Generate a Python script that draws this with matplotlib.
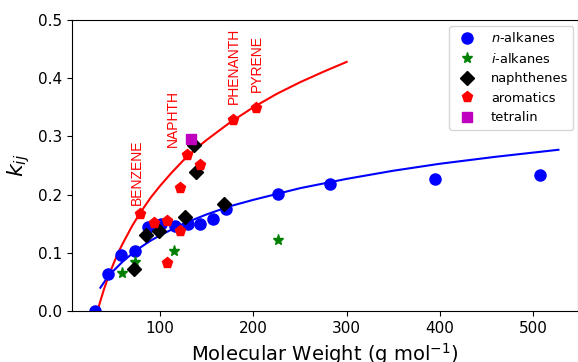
import numpy as np
import matplotlib.pyplot as plt

# binary interaction parameters vs molecular weight
n_alk_mw = [30, 44, 58, 73, 87, 101, 116, 130, 143, 157, 171, 226, 282, 395, 507]
n_alk_k = [0.0, 0.064, 0.096, 0.103, 0.144, 0.149, 0.146, 0.149, 0.149, 0.158, 0.176,
           0.201, 0.218, 0.226, 0.234]

i_alk_mw = [59, 73, 115, 226]
i_alk_k = [0.066, 0.085, 0.103, 0.122]

naph_mw = [72, 85, 99, 127, 169, 139, 136]
naph_k = [0.073, 0.131, 0.138, 0.162, 0.183, 0.239, 0.285]

arom_mw = [78.5, 93.5, 107, 121, 121, 107, 143, 128.6, 178.5, 202.6]
arom_k = [0.167, 0.152, 0.155, 0.137, 0.211, 0.082, 0.251, 0.268, 0.329, 0.349]

tetralin_mw = [133]
tetralin_k = [0.296]

# fitted trend lines
fit_n_mw = [36, 42, 50, 60, 75, 90, 100, 125, 150, 175, 200, 250, 300, 350, 400, 460, 527]
fit_n_k = [0.040, 0.054, 0.069, 0.085, 0.105, 0.121, 0.130, 0.150, 0.166, 0.180, 0.191,
           0.211, 0.227, 0.241, 0.253, 0.265, 0.277]

fit_a_mw = [30, 35, 40, 45, 50, 55, 60, 70, 78, 90, 100, 112, 125, 140, 150, 175, 200, 225, 250, 275, 300]
fit_a_k = [-0.018, 0.012, 0.038, 0.061, 0.081, 0.100, 0.116, 0.146, 0.167, 0.195, 0.215,
           0.237, 0.259, 0.281, 0.294, 0.324, 0.350, 0.373, 0.393, 0.411, 0.428]

labels = ['BENZENE', 'NAPHTH', 'PHENANTH', 'PYRENE']
label_mw = [75, 114, 179, 204]
label_k = [0.182, 0.282, 0.356, 0.376]

fig = plt.figure(figsize=(5.78, 3.62), dpi=100)
ax = fig.add_axes([0.1246, 0.1409, 0.8754, 0.8039])

ax.plot(fit_n_mw, fit_n_k, '-', color='b', lw=1.5)
ax.plot(fit_a_mw, fit_a_k, '-', color='r', lw=1.5)

ax.plot(n_alk_mw, n_alk_k, 'o', color='b', ms=8, ls='none', label='$n$-alkanes')
ax.plot(i_alk_mw, i_alk_k, '*', color='g', ms=8, ls='none', label='$i$-alkanes')
ax.plot(naph_mw, naph_k, 'D', color='k', ms=7, ls='none', label='naphthenes')
ax.plot(arom_mw, arom_k, 'p', color='r', ms=8, ls='none', label='aromatics')
ax.plot(tetralin_mw, tetralin_k, 's', color='m', ms=7, ls='none', label='tetralin')

for txt, x, y in zip(labels, label_mw, label_k):
    ax.text(x, y, txt, rotation=90, color='r', fontsize=10, family='Liberation Sans',
            ha='center', va='bottom')

ax.set_xlim(5.6, 548)
ax.set_ylim(0, 0.5)
ax.set_xticks([100, 200, 300, 400, 500])
ax.set_yticks([0.0, 0.1, 0.2, 0.3, 0.4, 0.5])
ax.tick_params(labelsize=11)
ax.set_xlabel('Molecular Weight (g mol$^{-1}$)', fontsize=14)
ax.set_ylabel('$k_{ij}$', fontsize=16)

ax.legend(loc='upper right', bbox_to_anchor=(0.992, 0.928), bbox_transform=fig.transFigure,
          fontsize=9.4, borderaxespad=0)

fig.savefig('out.png', dpi=100)
